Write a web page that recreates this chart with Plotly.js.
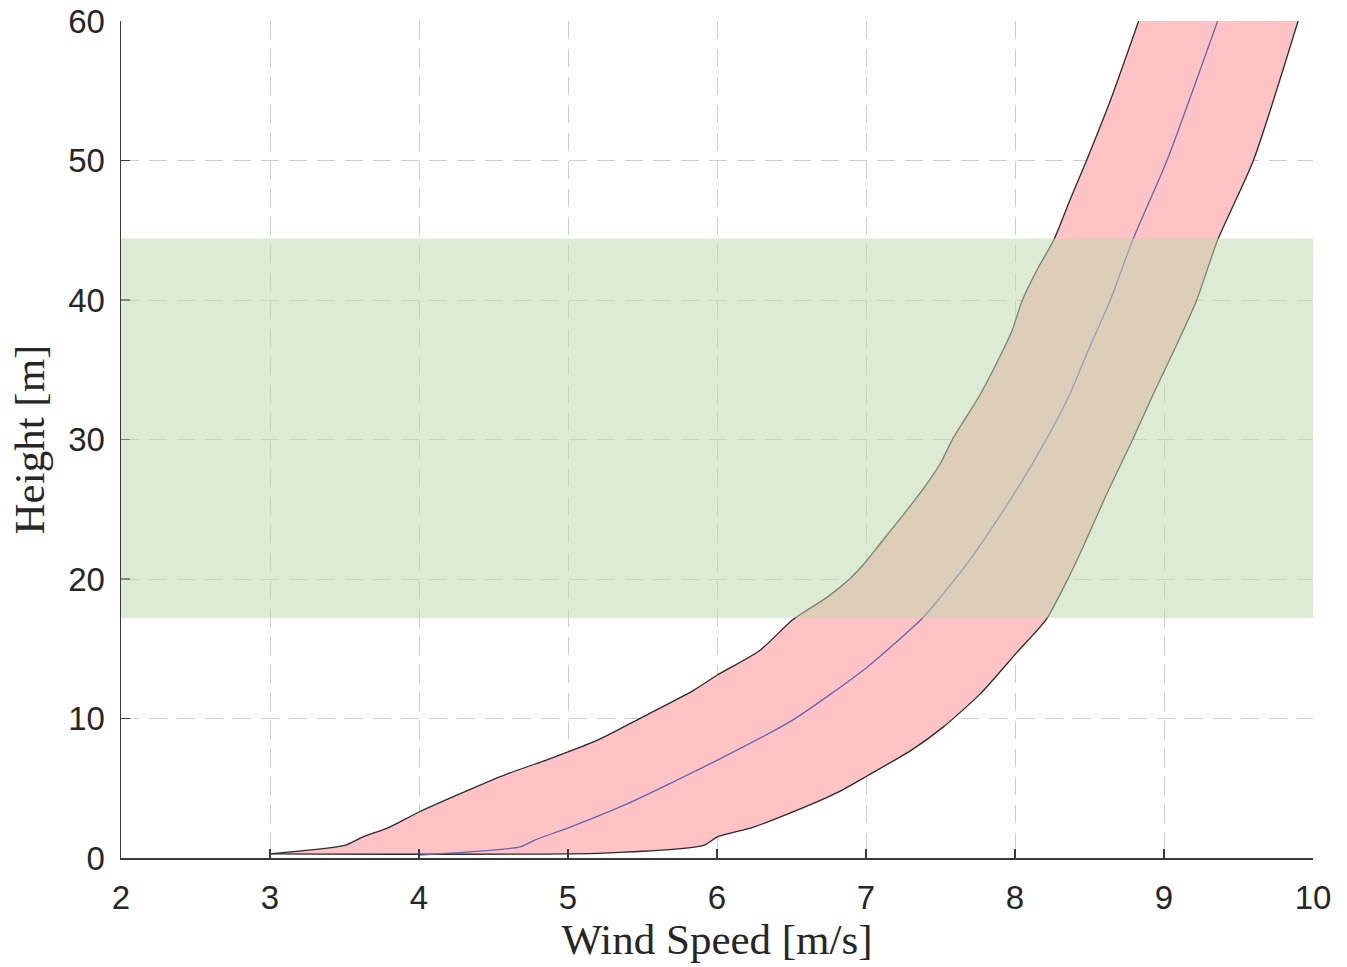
<!DOCTYPE html>
<html>
<head>
<meta charset="utf-8">
<script src="https://cdn.plot.ly/plotly-3.0.1.min.js"></script>
<style>html,body{margin:0;padding:0;background:#fff;}</style>
</head>
<body>
<div id="chart" style="width:1347px;height:967px;"></div>
<script>
// Upper bound of height band (low wind-speed edge)
const leftSpeed  = [3.0, 3.5, 3.62, 3.8, 4.0, 4.34, 4.61, 4.85, 5.0, 5.21, 5.5, 5.84, 6.0, 6.29, 6.51, 6.74, 6.89, 6.98, 7.1, 7.25, 7.4, 7.5, 7.58, 7.77, 7.91, 7.98, 8.05, 8.15, 8.26, 8.37, 8.48, 8.64, 8.83];
const leftHeight = [0.3, 0.9, 1.5, 2.2, 3.3, 4.9, 6.1, 7.0, 7.6, 8.5, 10.1, 12.0, 13.1, 14.9, 17.1, 18.7, 20.0, 21.0, 22.6, 24.6, 26.7, 28.3, 30.0, 33.3, 36.2, 37.8, 40.0, 42.2, 44.3, 47.2, 50.0, 54.3, 60.0];
// Mean profile
const midSpeed   = [4.0, 4.68, 4.78, 5.01, 5.40, 6.0, 6.51, 7.01, 7.38, 7.50, 7.70, 7.97, 8.21, 8.37, 8.50, 8.64, 8.79, 9.02, 9.36];
const midHeight  = [0.2, 0.8, 1.3, 2.2, 3.9, 7.0, 9.9, 13.7, 17.2, 18.7, 21.4, 25.7, 30.0, 33.3, 36.6, 40.0, 44.3, 50.0, 60.0];
// Lower bound (high wind-speed edge)
const rightSpeed  = [3.0, 5.24, 5.91, 6.0, 6.24, 6.51, 6.81, 7.01, 7.30, 7.52, 7.77, 8.01, 8.21, 8.35, 8.44, 8.62, 8.79, 8.93, 9.09, 9.22, 9.36, 9.6, 9.9];
const rightHeight = [0.3, 0.35, 0.9, 1.5, 2.2, 3.3, 4.7, 5.9, 7.7, 9.4, 11.8, 14.7, 17.1, 19.9, 21.9, 26.2, 30.0, 33.3, 36.9, 40.0, 44.3, 50.0, 60.0];
// Highlighted height range
const bandRange = [17.2, 44.4];
const xTicks = [2, 3, 4, 5, 6, 7, 8, 9, 10];
const yTicks = [0, 10, 20, 30, 40, 50, 60];

const sm = 0.6;
const traces = [
  {x: leftSpeed, y: leftHeight, type: 'scatter', mode: 'lines',
   line: {color: '#2a2a2a', width: 1.3, shape: 'spline', smoothing: sm}, showlegend: false},
  {x: rightSpeed, y: rightHeight, type: 'scatter', mode: 'lines', fill: 'tonexty',
   fillcolor: 'rgb(255,195,198)',
   line: {color: '#2a2a2a', width: 1.3, shape: 'spline', smoothing: sm}, showlegend: false},
  {x: midSpeed, y: midHeight, type: 'scatter', mode: 'lines',
   line: {color: 'rgb(100,100,175)', width: 1.3, shape: 'spline', smoothing: sm}, showlegend: false}
];

const tickFont = {family: 'Liberation Sans, Arial, sans-serif', size: 33, color: '#262626'};
const titleFont = {family: 'Liberation Serif, Times New Roman, serif', size: 43, color: '#262626'};

const layout = {
  width: 1347, height: 967,
  margin: {l: 121, r: 34, t: 21, b: 109},
  paper_bgcolor: '#fff', plot_bgcolor: '#fff',
  showlegend: false,
  xaxis: {
    range: [2, 10], tickvals: xTicks, ticktext: xTicks.map(String),
    showgrid: true, gridcolor: '#cfcfcf', gridwidth: 1, griddash: '18px,10px',
    zeroline: false, showline: true, linecolor: '#3a3a3a', linewidth: 1.5,
    ticks: 'inside', ticklen: 9, tickcolor: '#3a3a3a', tickwidth: 1.5,
    tickfont: tickFont, ticklabelstandoff: 10,
    title: {text: 'Wind Speed [m/s]', font: titleFont, standoff: 8}
  },
  yaxis: {
    range: [0, 60], tickvals: yTicks, ticktext: yTicks.map(String),
    showgrid: true, gridcolor: '#cfcfcf', gridwidth: 1, griddash: '18px,10px',
    zeroline: false, showline: true, linecolor: '#3a3a3a', linewidth: 1.5,
    ticks: 'inside', ticklen: 9, tickcolor: '#3a3a3a', tickwidth: 1.5,
    tickfont: tickFont, ticklabelstandoff: 8,
    title: {text: 'Height [m]', font: titleFont, standoff: 10}
  },
  shapes: [
    {type: 'rect', xref: 'paper', yref: 'y', x0: 0, x1: 1, y0: bandRange[0], y1: bandRange[1],
     fillcolor: 'rgba(190,216,172,0.52)', line: {width: 0}, layer: 'above'}
  ]
};

Plotly.newPlot('chart', traces, layout, {displayModeBar: false, staticPlot: true});
</script>
</body>
</html>
